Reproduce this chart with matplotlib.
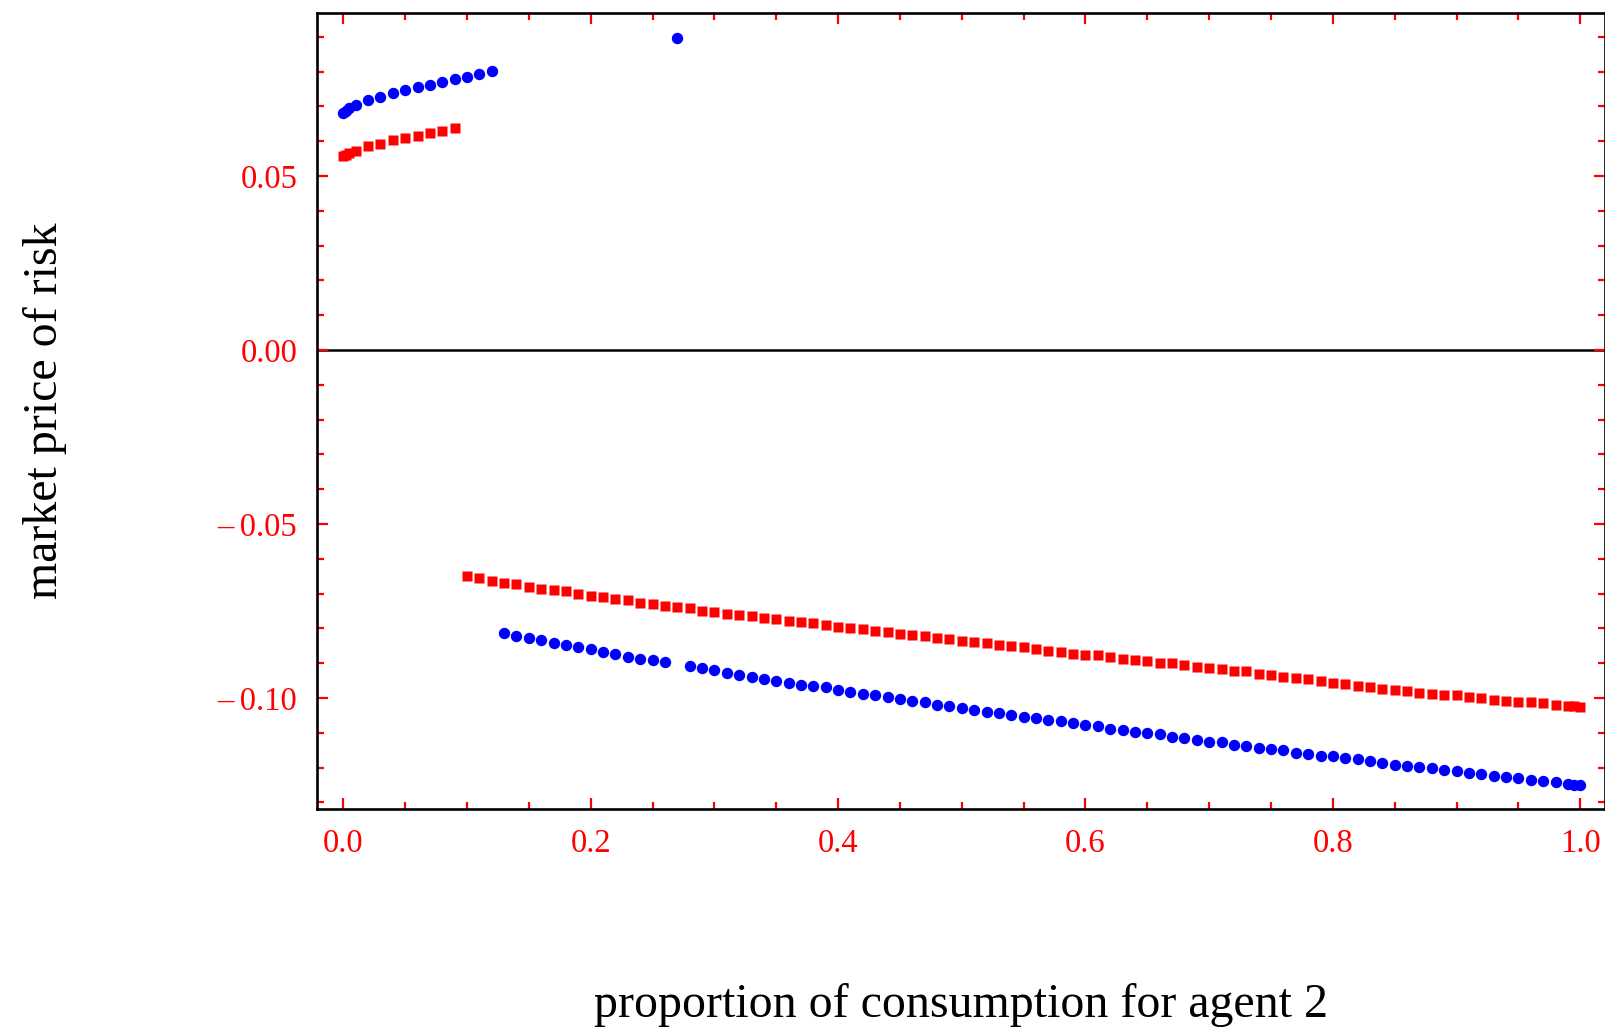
import numpy as np
import matplotlib
matplotlib.use("Agg")
import matplotlib.pyplot as plt
from matplotlib.ticker import MultipleLocator, FuncFormatter

matplotlib.rcParams["font.family"] = ["Liberation Serif", "DejaVu Serif"]

# blue series (circles)
blue_top_x = [0.0, 0.002, 0.005, 0.01, 0.02, 0.03, 0.04, 0.05, 0.06, 0.07,
              0.08, 0.09, 0.10, 0.11, 0.12]
blue_top_y = [0.0682, 0.0687, 0.0694, 0.0703, 0.0718, 0.0728, 0.0738, 0.0746,
              0.0755, 0.0762, 0.0771, 0.0778, 0.0785, 0.0794, 0.0801]
blue_odd_x = [0.27]
blue_odd_y = [0.0896]
blue_low_x = list(np.round(np.arange(0.13, 0.265, 0.01), 3)) + \
    list(np.round(np.arange(0.28, 0.995, 0.01), 3)) + [0.995, 1.0]
blue_low_y = [
    -0.0814, -0.0823, -0.0829, -0.0834, -0.0843, -0.0849, -0.0854, -0.0860,
    -0.0869, -0.0875, -0.0881, -0.0887, -0.0892, -0.0897,
    -0.0909, -0.0915, -0.0920, -0.0927, -0.0933, -0.0939, -0.0945, -0.0950,
    -0.0956, -0.0962, -0.0965, -0.0970, -0.0976, -0.0982, -0.0988, -0.0993,
    -0.0996, -0.1002, -0.1008, -0.1013, -0.1019, -0.1022, -0.1028, -0.1034,
    -0.1039, -0.1042, -0.1048, -0.1054, -0.1057, -0.1062, -0.1067, -0.1073,
    -0.1077, -0.1082, -0.1088, -0.1091, -0.1097, -0.1100, -0.1105, -0.1111,
    -0.1114, -0.1120, -0.1126, -0.1128, -0.1134, -0.1137, -0.1143, -0.1146,
    -0.1151, -0.1157, -0.1160, -0.1166, -0.1168, -0.1173, -0.1176, -0.1182,
    -0.1186, -0.1192, -0.1195, -0.1199, -0.1202, -0.1208, -0.1211, -0.1215,
    -0.1220, -0.1223, -0.1228, -0.1231, -0.1237, -0.1239, -0.1242, -0.1248,
    -0.1250, -0.1251,
]

# red series (squares)
red_top_x = [0.0, 0.002, 0.005, 0.01, 0.02, 0.03, 0.04, 0.05, 0.06, 0.07,
             0.08, 0.09]
red_top_y = [0.0557, 0.0560, 0.0565, 0.0573, 0.0585, 0.0593, 0.0603, 0.0609,
             0.0616, 0.0623, 0.0628, 0.0637]
red_low_x = list(np.round(np.arange(0.10, 0.995, 0.01), 3)) + [0.995, 1.0]
red_low_y = [
    -0.0650, -0.0656, -0.0663, -0.0669, -0.0674, -0.0680, -0.0686, -0.0689,
    -0.0694, -0.0700, -0.0706, -0.0709, -0.0715, -0.0720, -0.0726, -0.0729,
    -0.0735, -0.0740, -0.0743, -0.0749, -0.0752, -0.0758, -0.0761, -0.0766,
    -0.0771, -0.0774, -0.0780, -0.0783, -0.0785, -0.0791, -0.0797, -0.0800,
    -0.0803, -0.0808, -0.0811, -0.0816, -0.0820, -0.0823, -0.0829, -0.0831,
    -0.0837, -0.0840, -0.0843, -0.0849, -0.0851, -0.0854, -0.0860, -0.0864,
    -0.0867, -0.0873, -0.0876, -0.0878, -0.0881, -0.0887, -0.0890, -0.0893,
    -0.0899, -0.0901, -0.0904, -0.0910, -0.0913, -0.0916, -0.0922, -0.0924,
    -0.0930, -0.0933, -0.0939, -0.0942, -0.0947, -0.0950, -0.0956, -0.0959,
    -0.0965, -0.0968, -0.0973, -0.0976, -0.0979, -0.0985, -0.0988, -0.0991,
    -0.0993, -0.0996, -0.0999, -0.1005, -0.1008, -0.1011, -0.1013, -0.1016,
    -0.1019, -0.1022, -0.1024, -0.1025,
]

blue_x = blue_top_x + blue_odd_x + blue_low_x
blue_y = blue_top_y + blue_odd_y + blue_low_y
red_x = red_top_x + red_low_x
red_y = red_top_y + red_low_y


def minus_fmt(fmt):
    # long dash for the minus sign, with a little room after it
    def f(v, pos):
        s = fmt % v
        if s.startswith("-"):
            if float(s) == 0:
                return s[1:]
            return "\u2013\u2009" + s[1:]
        return s
    return FuncFormatter(f)


fig = plt.figure(figsize=(16.06, 10.32), dpi=100)
ax = fig.add_axes([0.1972, 0.2158, 0.8022, 0.7719])

ax.axhline(0, color="black", lw=1.8, zorder=1)
ax.plot(blue_x, blue_y, "o", color="blue", ms=8.2, mec="none", zorder=3)
ax.plot(red_x, red_y, "s", color="red", ms=6.5, mec="none", zorder=3)

ax.set_xlim(-0.0215, 1.02)
ax.set_ylim(-0.132, 0.0969)

ax.xaxis.set_major_locator(MultipleLocator(0.2))
ax.xaxis.set_minor_locator(MultipleLocator(0.05))
ax.yaxis.set_major_locator(MultipleLocator(0.05))
ax.yaxis.set_minor_locator(MultipleLocator(0.01))
ax.xaxis.set_major_formatter(minus_fmt("%.1f"))
ax.yaxis.set_major_formatter(minus_fmt("%.2f"))

for s in ax.spines.values():
    s.set_color("black")
    s.set_linewidth(1.9)

ax.tick_params(which="both", direction="in", top=True, right=True,
               color="red", labelcolor="red", labelsize=23.5)
ax.tick_params(which="major", length=8, width=1.6)
ax.tick_params(which="minor", length=5, width=1.6)
ax.tick_params(axis="x", which="major", pad=14)
ax.tick_params(axis="y", which="major", pad=14)

fig.text(961 / 1606, 1 - 1017 / 1032, "proportion of consumption for agent 2",
         ha="center", va="baseline", fontsize=34.5)
fig.text(45 / 1606, 1 - 411 / 1032, "market price of risk", rotation=90,
         ha="center", va="center", fontsize=34.5)

fig.savefig("out.png", dpi=100)
